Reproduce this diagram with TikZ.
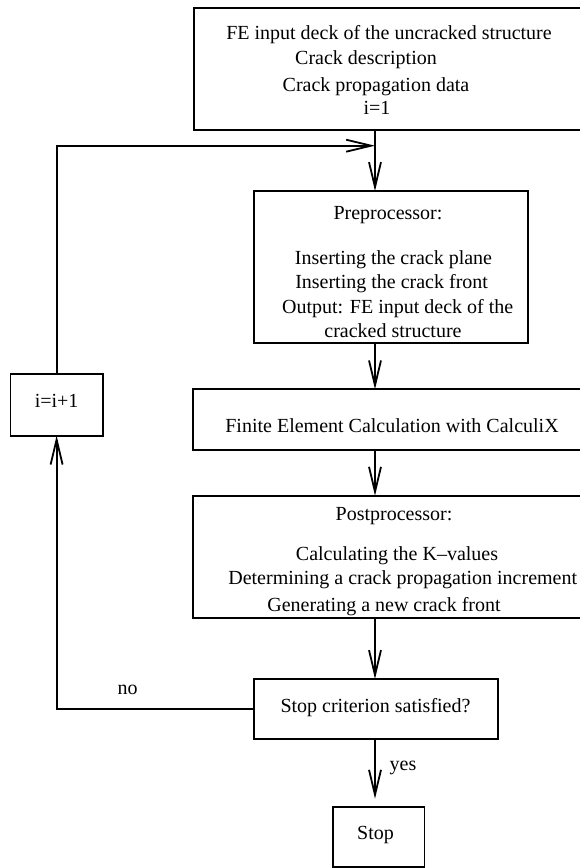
\documentclass[tikz,border=0pt]{standalone}
\usepackage{fontspec}
\setmainfont{Liberation Serif}
\usetikzlibrary{arrows.meta}
\begin{document}
\begin{tikzpicture}[x=1pt,y=-1pt,
  box/.style={draw, line width=1.8pt, inner sep=0pt, outer sep=0pt},
  lbl/.style={anchor=base, inner sep=0pt, font=\fontsize{20}{24}\selectfont},
  conn/.style={line width=1.8pt},
  arr/.style={conn, -{Straight Barb[length=25pt,width=12pt]}}]
\useasboundingbox (0,0) rectangle (580,868);
\clip (0,0) rectangle (580,868);
% boxes
\node[box, minimum width=406pt, minimum height=121.7pt] (top) at (397,68.85) {};
\node[box, minimum width=273.6pt, minimum height=152.3pt] (pre) at (390.8,267.15) {};
\node[box, minimum width=407pt, minimum height=60.7pt] (fe) at (396.5,419.65) {};
\node[box, minimum width=407pt, minimum height=122pt] (post) at (396.5,556.7) {};
\node[box, minimum width=243.6pt, minimum height=60.3pt] (crit) at (375.8,709.15) {};
\node[box, minimum width=91.5pt, minimum height=60.6pt] (stop) at (378.75,837) {};
\node[box, minimum width=92.4pt, minimum height=61.7pt] (inc) at (56.6,404.85) {};
% texts
\node[lbl] (t1) at (389,39) {FE input deck of the uncracked structure};
\node[lbl] (t2) at (366,64) {Crack description};
\node[lbl] (t3) at (376,91) {Crack propagation data};
\node[lbl] (t4) at (377,114) {i=1};
\node[lbl] (p1) at (388,219.3) {Preprocessor:};
\node[lbl] (p2) at (393.5,264.3) {Inserting the crack plane};
\node[lbl] (p3) at (391.6,288.7) {Inserting the crack front};
\node[lbl] (p4) at (397.7,313.7) {Output: FE input deck of the};
\node[lbl] (p5) at (393,337.7) {cracked structure};
\node[lbl] (f1) at (392,432) {Finite Element Calculation with CalculiX};
\node[lbl] (q1) at (394,520) {Postprocessor:};
\node[lbl] (q2) at (397,560) {Calculating the K–values};
\node[lbl] (q3) at (402.7,584.3) {Determining a crack propagation increment};
\node[lbl] (q4) at (384,611) {Generating a new crack front};
\node[lbl] (c1) at (375.5,712) {Stop criterion satisfied?};
\node[lbl] (s1) at (375.5,839.3) {Stop};
\node[lbl] (i1) at (56.6,407.7) {i=i+1};
\node[lbl] (no) at (127.6,694.3) {no};
\node[lbl] (yes) at (403,770) {yes};
% connectors
\coordinate (mx) at (375,0);
\coordinate (jn) at (375,145.7);
\draw[arr] (top.south -| mx) -- (pre.north -| mx);
\draw[arr] (pre.south -| mx) -- (fe.north -| mx);
\draw[arr] (fe.south -| mx) -- (post.north -| mx);
\draw[arr] (post.south -| mx) -- (crit.north -| mx);
\draw[arr, shorten >=8pt] (crit.south -| mx) -- (stop.north -| mx);
\draw[arr] (crit.west) -| (inc.south);
\draw[arr] (inc.north) |- (jn);
\end{tikzpicture}
\end{document}
